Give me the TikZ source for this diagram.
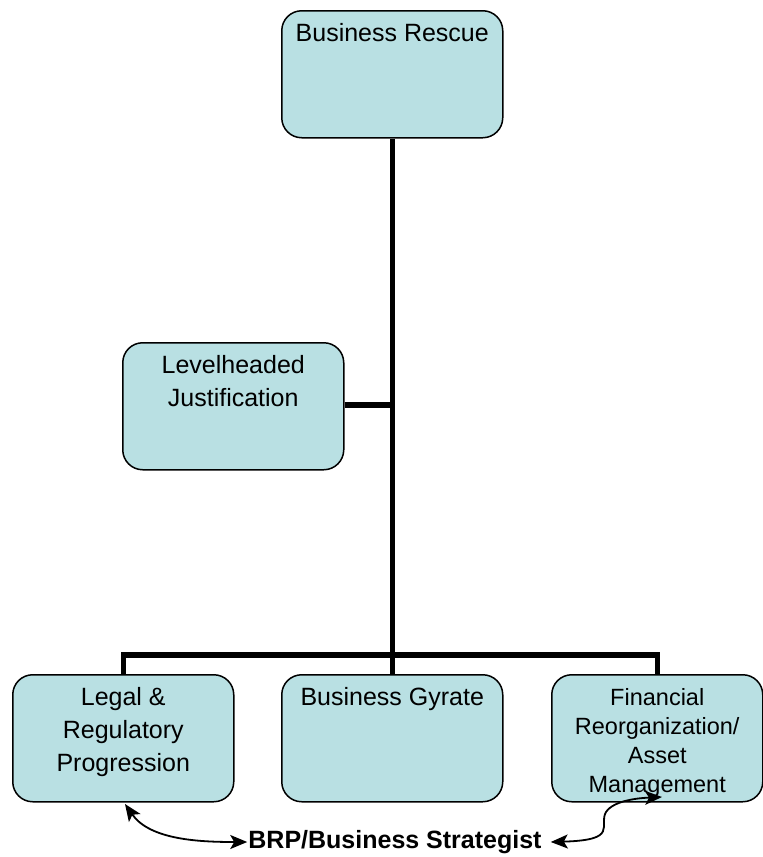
\documentclass[tikz,border=0pt]{standalone}
\usepackage{fontspec}
\setmainfont{Liberation Sans}
\usetikzlibrary{arrows.meta}
\definecolor{boxfill}{RGB}{185,224,227}
\tikzset{tipS/.tip={Stealth[length=17pt,width=14pt,inset=4pt]}}
\begin{document}
\begin{tikzpicture}[x=1pt,y=-1pt,
  box/.style={draw=black, line width=1.5pt, fill=boxfill, rounded corners=20pt,
    minimum width=221pt, minimum height=127pt, inner sep=0pt, anchor=north west},
  lbl/.style={anchor=north, align=center, inner sep=0pt, yshift=-13pt,
    font=\fontsize{25}{33}\selectfont},
  lblsm/.style={anchor=north, align=center, inner sep=0pt, yshift=-14pt,
    font=\fontsize{23.5}{29}\selectfont},
  trunk/.style={line width=5.5pt},
  dbl/.style={line width=1.8pt, arrows={tipS-tipS}}]
\useasboundingbox (0,0) rectangle (763,857);
\node[box, label={[lbl]north:Business Rescue}] (br) at (281,10) {};
\node[box, label={[lbl]north:Levelheaded\\Justification}] (lj) at (122,342) {};
\node[box, label={[lbl]north:Legal \&\\Regulatory\\Progression}] (lr) at (12,674) {};
\node[box, label={[lbl]north:Business Gyrate}] (bg) at (281,674) {};
\node[box, minimum width=211pt, label={[lblsm]north:Financial\\Reorganization/\\Asset\\Management}] (fr) at (551,674) {};
\coordinate (bus) at (br.south |- 0,655);
\coordinate (jn) at (br.south |- 0,405);
\draw[trunk] (br.south) -- (bus);
\draw[trunk] (lj.east |- jn) -- (jn);
\draw[trunk] (lr.north) -- (lr.north |- bus) -- (fr.north |- bus) -- (fr.north);
\draw[trunk] (bus) -- (bg.north);
\node[font=\bfseries\fontsize{25}{30}\selectfont, inner sep=0pt] (brp) at (395,842) {BRP/Business Strategist};
\coordinate (lt) at (125,804);
\coordinate (rt) at (662,797);
\draw[dbl] (lt) .. controls (150,840) and (200,842) .. ([xshift=-1pt]brp.west);
\draw[dbl] ([xshift=9pt]brp.east) .. controls (620,840) and (598,826) .. (606,812) .. controls (614,800) and (640,798) .. (rt);
\end{tikzpicture}
\end{document}
